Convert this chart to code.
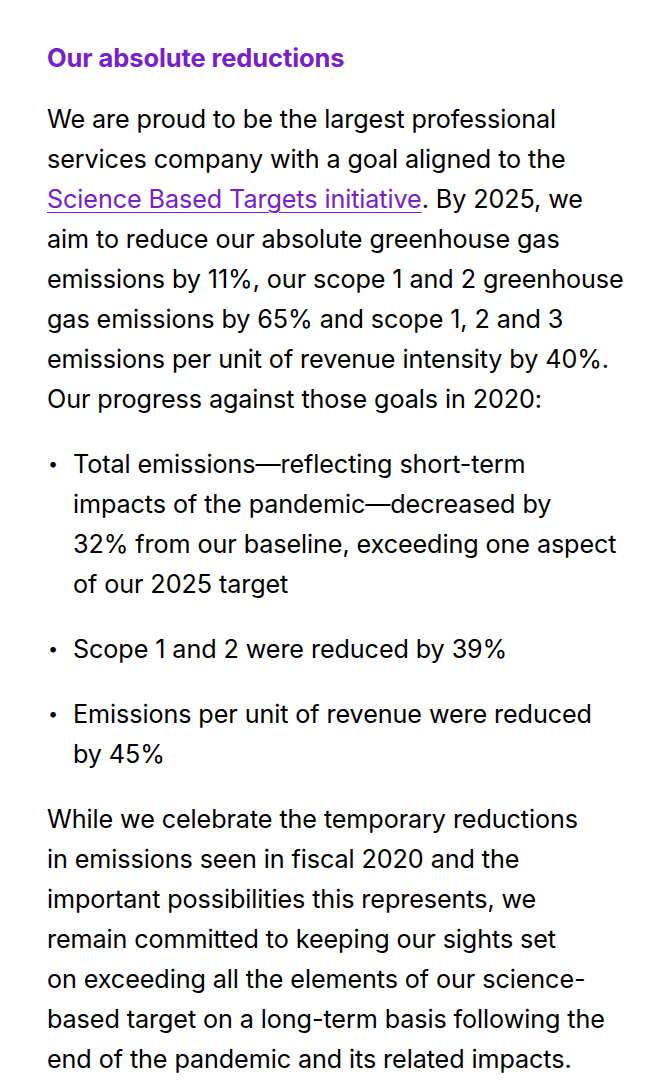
import { useEffect } from 'react';

const heading = 'Our absolute reductions';
const introLines = [
  'We are proud to be the largest professional',
  'services company with a goal aligned to the',
  '__LINK__',
  'aim to reduce our absolute greenhouse gas',
  'emissions by 11%, our scope 1 and 2 greenhouse',
  'gas emissions by 65% and scope 1, 2 and 3',
  'emissions per unit of revenue intensity by 40%.',
  'Our progress against those goals in 2020:',
];
const linkText = 'Science Based Targets initiative';
const linkTail = '. By 2025, we';
const bullets = [
  [
    'Total emissions\u2014reflecting short-term',
    'impacts of the pandemic\u2014decreased by',
    '32% from our baseline, exceeding one aspect',
    'of our 2025 target',
  ],
  ['Scope 1 and 2 were reduced by 39%'],
  ['Emissions per unit of revenue were reduced', 'by 45%'],
];
const closingLines = [
  'While we celebrate the temporary reductions',
  'in emissions seen in fiscal 2020 and the',
  'important possibilities this represents, we',
  'remain committed to keeping our sights set',
  'on exceeding all the elements of our science-',
  'based target on a long-term basis following the',
  'end of the pandemic and its related impacts.',
];

const purple = '#7820c8';

const App = () => {
  useEffect(() => {
    document.body.style.margin = '0';
  }, []);

  const lineStyle = { height: 40, lineHeight: '40px', whiteSpace: 'nowrap' as const };

  return (
    <div
      style={{
        fontFamily: 'Inter, "Noto Sans", sans-serif',
        fontSize: 25.2,
        letterSpacing: -0.1,
        color: '#000',
        padding: '38px 0 0 47px',
        width: 646,
        boxSizing: 'border-box',
      }}
    >
      <div style={{ ...lineStyle, color: purple, fontWeight: 700, fontSize: 25.5, marginBottom: 21 }}>{heading}</div>
      <div>
        {introLines.map((l, i) =>
          l === '__LINK__' ? (
            <div key={i} style={lineStyle}>
              <span style={{ color: purple, textDecoration: 'underline', textUnderlineOffset: 4, textDecorationThickness: 1 }}>
                {linkText}
              </span>
              {linkTail}
            </div>
          ) : (
            <div key={i} style={lineStyle}>{l}</div>
          )
        )}
      </div>
      {bullets.map((b, i) => (
        <div key={i} style={{ position: 'relative', marginTop: 25, paddingLeft: 26 }}>
          <span style={{ position: 'absolute', left: 1, top: 0, lineHeight: '40px', fontSize: 18 }}>{'\u2022'}</span>
          {b.map((l, j) => (
            <div key={j} style={lineStyle}>{l}</div>
          ))}
        </div>
      ))}
      <div style={{ marginTop: 25 }}>
        {closingLines.map((l, i) => (
          <div key={i} style={lineStyle}>{l}</div>
        ))}
      </div>
    </div>
  );
};

export default App;
